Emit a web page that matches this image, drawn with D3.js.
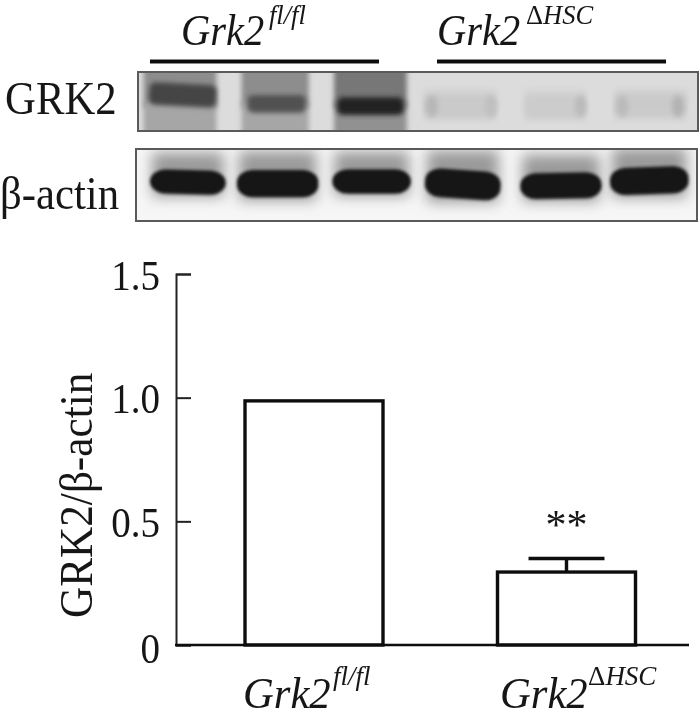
<!DOCTYPE html>
<html>
<head>
<meta charset="utf-8">
<script src="https://cdn.jsdelivr.net/npm/d3@7"></script>
<style>
  html, body { margin: 0; background: #fff; }
  svg { display: block; }
  text { font-family: "Liberation Serif", serif; fill: #151515; }
</style>
</head>
<body>
<div id="chart"></div>
<script>
// bar chart values
const groups = ["fl", "hsc"];
const ratio = [0.987, 0.295];
const ratioErr = [0, 0.055];
const yTicks = [0, 0.5, 1.0, 1.5];
const yTickLabels = ["0", "0.5", "1.0", "1.5"];

// blot lanes, in percent of blot width / height
const grkLaneStart = [1, 18.5, 35, 51, 69, 85];
const grkLaneEnd = [14, 30.5, 48, 64, 80, 98];
const grkSmear = [0.42, 0.42, 0.52, 0.09, 0.08, 0.09];
const grkLower = [0.30, 0.30, 0.40, 0.08, 0.08, 0.08];
const grkBandStart = [2, 19.5, 35.5, 51, 69, 85];
const grkBandEnd = [14, 30, 47.5, 64, 80, 98];
const grkBandY = [39, 54, 58, 58, 58, 56];
const grkBandThick = [38, 30, 30, 40, 40, 40];
const grkBandDark = [0.76, 0.70, 0.93, 0.13, 0.12, 0.13];
const grkBandTilt = [3, 0, 0, 0, 0, 0];
const grkSpotX = [52.5, 63, 79, 86.5, 96.4];
const grkSpotDark = [0.22, 0.18, 0.2, 0.2, 0.24];

const actinStart = [2.5, 18, 35, 51.5, 68.5, 84.5];
const actinEnd = [16, 32.5, 49, 65, 83, 98.5];
const actinY = [46, 48, 45, 49, 51, 44];
const actinThick = [34, 38, 34, 40, 36, 38];
const actinTilt = [1.5, 0, 0, 4, -1, -2];

const width = 700, height = 713;
const svg = d3.select("#chart").append("svg").attr("width", width).attr("height", height);
const defs = svg.append("defs");
[["soft", 0.45], ["b1", 1.5], ["b2", 2.8], ["b5", 7]].forEach(([id, s]) => {
  defs.append("filter").attr("id", id)
    .attr("x", "-30%").attr("y", "-60%").attr("width", "160%").attr("height", "220%")
    .append("feGaussianBlur").attr("stdDeviation", s);
});

const ink = svg.append("g").attr("filter", "url(#soft)");

function drawBlot(id, x0, x1, y0, y1, bg) {
  defs.append("clipPath").attr("id", id).append("rect")
    .attr("x", x0).attr("y", y0).attr("width", x1 - x0).attr("height", y1 - y0);
  const g = svg.append("g").attr("clip-path", `url(#${id})`);
  g.append("rect").attr("x", x0).attr("y", y0).attr("width", x1 - x0).attr("height", y1 - y0).attr("fill", bg);
  return {
    g,
    x: d3.scaleLinear().domain([0, 100]).range([x0, x1]),
    y: d3.scaleLinear().domain([0, 100]).range([y0, y1]),
    frame: () => svg.append("rect").attr("x", x0).attr("y", y0).attr("width", x1 - x0).attr("height", y1 - y0)
      .attr("fill", "none").attr("stroke", "#5a5a5a").attr("stroke-width", 2)
  };
}

// GRK2 blot
const grk = drawBlot("clipGrk", 138, 698, 72, 131, "#dcdcdc");
const shade = d3.scaleLinear().domain([0, 1]).range(["#e6e6e6", "#111"]);
const laneIdx = d3.range(grkSmear.length);
grk.g.selectAll("rect.smear").data(laneIdx).join("rect")
  .attr("class", "smear")
  .attr("x", i => grk.x(grkLaneStart[i]))
  .attr("width", i => grk.x(grkLaneEnd[i]) - grk.x(grkLaneStart[i]))
  .attr("y", i => i < 3 ? grk.y(-10) : grk.y(28))
  .attr("height", i => i < 3 ? grk.y(60) - grk.y(-10) : grk.y(50) - grk.y(28))
  .attr("fill", i => shade(grkSmear[i]))
  .attr("filter", "url(#b2)");
grk.g.selectAll("rect.lower").data(laneIdx).join("rect")
  .attr("class", "lower")
  .attr("x", i => grk.x(grkLaneStart[i]))
  .attr("width", i => grk.x(grkLaneEnd[i]) - grk.x(grkLaneStart[i]))
  .attr("y", grk.y(50))
  .attr("height", i => i < 3 ? grk.y(60) - grk.y(0) : grk.y(35) - grk.y(0))
  .attr("fill", i => shade(grkLower[i]))
  .attr("filter", "url(#b2)");
grk.g.selectAll("rect.band").data(laneIdx).join("rect")
  .attr("class", "band")
  .attr("x", i => grk.x(grkBandStart[i]))
  .attr("width", i => grk.x(grkBandEnd[i]) - grk.x(grkBandStart[i]))
  .attr("y", i => grk.y(grkBandY[i] - grkBandThick[i] / 2))
  .attr("height", i => grk.y(grkBandThick[i]) - grk.y(0))
  .attr("rx", 6)
  .attr("fill", i => shade(grkBandDark[i]))
  .attr("transform", i => `rotate(${grkBandTilt[i]} ${grk.x((grkBandStart[i] + grkBandEnd[i]) / 2)} ${grk.y(grkBandY[i])})`)
  .attr("filter", "url(#b2)");
// darker patches at the edges of the faint lanes
grk.g.selectAll("ellipse.spot").data(grkSpotX).join("ellipse")
  .attr("class", "spot")
  .attr("cx", d => grk.x(d))
  .attr("cy", grk.y(58))
  .attr("rx", 6).attr("ry", 11)
  .attr("fill", (d, i) => shade(grkSpotDark[i]))
  .attr("filter", "url(#b2)");
grk.frame();

// beta-actin blot
const act = drawBlot("clipAct", 136, 697, 149, 221, "#f6f6f6");
act.g.selectAll("rect.halo").data(laneIdx).join("rect")
  .attr("class", "halo")
  .attr("x", i => act.x(actinStart[i]) + 2)
  .attr("width", i => act.x(actinEnd[i]) - act.x(actinStart[i]) - 4)
  .attr("y", i => act.y(actinY[i] - actinThick[i]) - 5)
  .attr("height", i => act.y(actinThick[i] * 1.8) - act.y(0))
  .attr("fill", "#9a9a9a")
  .attr("filter", "url(#b5)");
act.g.selectAll("rect.band").data(laneIdx).join("rect")
  .attr("class", "band")
  .attr("x", i => act.x(actinStart[i]))
  .attr("width", i => act.x(actinEnd[i]) - act.x(actinStart[i]))
  .attr("y", i => act.y(actinY[i] - actinThick[i] / 2))
  .attr("height", i => act.y(actinThick[i]) - act.y(0))
  .attr("rx", 16).attr("ry", 12)
  .attr("fill", "#161616")
  .attr("transform", i => `rotate(${actinTilt[i]} ${act.x((actinStart[i] + actinEnd[i]) / 2)} ${act.y(actinY[i])})`)
  .attr("filter", "url(#b1)");
act.frame();

// the figure's type is narrower than Liberation Serif, so squeeze it a bit
const squeeze = 0.93;
function label(parent, x, y, size, str) {
  return parent.append("text")
    .attr("transform", `translate(${x},${y}) scale(${squeeze},1)`)
    .attr("font-size", size).text(str);
}

function grkLabel(parent, x, y, sx, group, supX, supY, supSize) {
  parent.append("text")
    .attr("transform", `translate(${x},${y}) scale(${sx},1)`)
    .attr("font-size", 44).attr("font-style", "italic").text("Grk2");
  const sup = parent.append("text").attr("x", supX).attr("y", supY)
    .attr("font-size", supSize).attr("font-style", "italic");
  if (group === "fl") {
    sup.text("fl/fl");
  } else {
    sup.append("tspan").attr("font-style", "normal").text("Δ");
    sup.append("tspan").text("HSC");
  }
}
grkLabel(ink, 181, 45, 0.92, groups[0], 269, 24, 26.5);
grkLabel(ink, 437, 45, 0.92, groups[1], 526, 24, 26.5);

ink.append("line").attr("x1", 150).attr("x2", 379).attr("y1", 61.5).attr("y2", 61.5).attr("stroke", "#111").attr("stroke-width", 4);
ink.append("line").attr("x1", 437).attr("x2", 666).attr("y1", 61.5).attr("y2", 61.5).attr("stroke", "#111").attr("stroke-width", 4);

label(ink, 5, 114, 46, "GRK2");
label(ink, 0, 209, 46, "β-actin");

// bar chart
const y = d3.scaleLinear().domain([0, 1.5]).range([645, 274]);
const barX = d3.scalePoint().domain(groups).range([314, 566.5]);
const barW = 138;

const yAxis = d3.axisLeft(y).tickValues(yTicks).tickSize(-15)
  .tickFormat((d, i) => yTickLabels[i]);
const yg = ink.append("g").attr("transform", "translate(176,0)").call(yAxis);
yg.select(".domain").attr("stroke", "#222").attr("stroke-width", 2);
yg.selectAll(".tick line").attr("stroke", "#222").attr("stroke-width", 2);
yg.selectAll(".tick text")
  .attr("x", 0).attr("y", 0).attr("dy", 0)
  .attr("transform", d => `translate(-16,${d === 0 ? 17 : 15}) scale(${squeeze},1)`)
  .attr("font-size", 42).attr("font-family", "Liberation Serif").attr("fill", "#151515");

// baseline
ink.append("line").attr("x1", 175).attr("x2", 689).attr("y1", y(0)).attr("y2", y(0)).attr("stroke", "#111").attr("stroke-width", 2.4);

ink.selectAll("rect.bar").data(groups).join("rect")
  .attr("class", "bar")
  .attr("x", d => barX(d) - barW / 2)
  .attr("width", barW)
  .attr("y", (d, i) => y(ratio[i]))
  .attr("height", (d, i) => y(0) - y(ratio[i]))
  .attr("fill", "none").attr("stroke", "#111").attr("stroke-width", 3.4);

// error bars, only where there is one
const errGroups = groups.filter((d, i) => ratioErr[i] > 0);
const errTop = d => y(ratio[groups.indexOf(d)] + ratioErr[groups.indexOf(d)]);
ink.selectAll("line.err").data(errGroups).join("line")
  .attr("class", "err")
  .attr("x1", d => barX(d)).attr("x2", d => barX(d))
  .attr("y1", d => y(ratio[groups.indexOf(d)])).attr("y2", errTop)
  .attr("stroke", "#111").attr("stroke-width", 3.4);
ink.selectAll("line.cap").data(errGroups).join("line")
  .attr("class", "cap")
  .attr("x1", d => barX(d) - 38).attr("x2", d => barX(d) + 38)
  .attr("y1", errTop).attr("y2", errTop)
  .attr("stroke", "#111").attr("stroke-width", 3.4);
ink.append("text").attr("x", barX("hsc")).attr("y", 539).attr("text-anchor", "middle").attr("font-size", 42).text("**");

grkLabel(ink, 243, 708, 0.97, groups[0], 333, 685, 27);
grkLabel(ink, 500, 708, 0.97, groups[1], 588, 685, 27);

ink.append("text")
  .attr("transform", `translate(92,618) rotate(-90) scale(0.92,1)`)
  .attr("font-size", 47)
  .text("GRK2/β-actin");
</script>
</body>
</html>
